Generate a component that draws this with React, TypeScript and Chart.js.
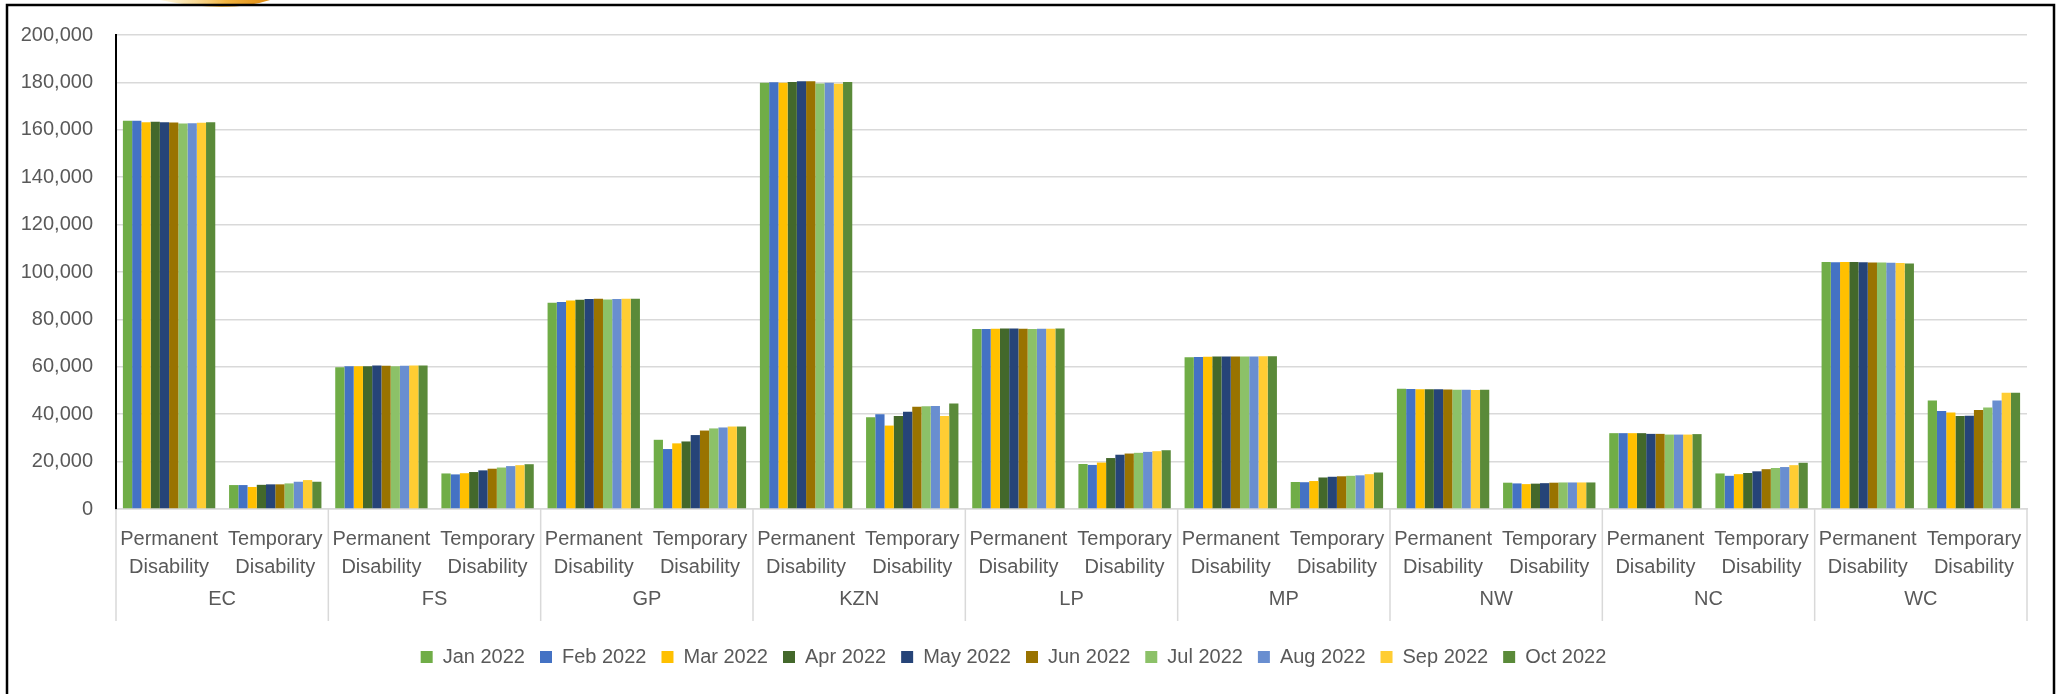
import React, { useEffect, useRef } from 'react';
import { Chart, registerables } from 'chart.js';

Chart.register(...registerables);

// ---- Data ----
const regions = ['EC', 'FS', 'GP', 'KZN', 'LP', 'MP', 'NW', 'NC', 'WC'];
const disabilityTypes = [
  ['Permanent', 'Disability'],
  ['Temporary', 'Disability'],
];
const monthNames = [
  'Jan 2022', 'Feb 2022', 'Mar 2022', 'Apr 2022', 'May 2022',
  'Jun 2022', 'Jul 2022', 'Aug 2022', 'Sep 2022', 'Oct 2022',
];
// order: EC P, EC T, FS P, FS T, GP P, GP T, KZN P, KZN T, LP P, LP T, MP P, MP T, NW P, NW T, NC P, NC T, WC P, WC T
const jan2022 = [163800, 10100, 59800, 15000, 87000, 29200, 179800, 38700, 75900, 19000, 64000, 11400, 50700, 11100, 32000, 15000, 104200, 45800];
const feb2022 = [163800, 10100, 60200, 14600, 87300, 25300, 180100, 40000, 76000, 18600, 64100, 11300, 50600, 10800, 32000, 14000, 104100, 41300];
const mar2022 = [163200, 9300, 60200, 15100, 88000, 27700, 179800, 35200, 76100, 19600, 64200, 11800, 50500, 10500, 32000, 14700, 104200, 40700];
const apr2022 = [163400, 10200, 60200, 15600, 88300, 28500, 180200, 39200, 76200, 21500, 64300, 13300, 50500, 10700, 32000, 15200, 104200, 39200];
const may2022 = [163200, 10400, 60500, 16300, 88600, 31200, 180500, 41000, 76200, 22900, 64300, 13600, 50500, 10900, 31700, 15900, 104100, 39300];
const jun2022 = [163100, 10400, 60400, 17000, 88700, 33100, 180500, 43100, 76100, 23400, 64300, 13800, 50400, 11100, 31700, 16800, 104000, 41800];
const jul2022 = [162700, 10800, 60200, 17500, 88400, 34000, 179500, 43400, 76000, 23700, 64300, 14000, 50300, 11200, 31400, 17300, 104000, 42800];
const aug2022 = [162800, 11500, 60400, 18100, 88600, 34400, 179900, 43500, 76100, 24100, 64300, 14200, 50300, 11200, 31400, 17700, 103900, 45800];
const sep2022 = [163000, 12200, 60500, 18500, 88700, 34800, 179400, 39200, 76100, 24400, 64400, 14700, 50200, 11200, 31400, 18500, 103800, 49100];
const oct2022 = [163200, 11500, 60600, 18900, 88700, 34800, 180200, 44500, 76200, 24800, 64500, 15400, 50300, 11200, 31600, 19500, 103600, 49100];

const monthColors = [
  '#70AD47', '#4472C4', '#FFC000', '#43682B', '#264478',
  '#997300', '#8CC168', '#698ED0', '#FFCD33', '#5A8A39',
];
const yMin = 0;
const yMax = 200000;
const yStep = 20000;

const FONT = "'Liberation Sans', Arial, sans-serif";
const TEXT = '#595959';

const decorPlugin = {
  id: 'decor',
  afterDraw(chart: any) {
    const { ctx, chartArea } = chart;
    const xs = chart.scales.x;
    ctx.save();
    // group separators
    ctx.strokeStyle = '#D9D9D9';
    ctx.lineWidth = 1.5;
    const n = regions.length;
    for (let g = 0; g <= n; g++) {
      let x: number;
      if (g === 0) x = chartArea.left;
      else if (g === n) x = chartArea.right;
      else x = (xs.getPixelForTick(2 * g - 1) + xs.getPixelForTick(2 * g)) / 2;
      ctx.beginPath();
      ctx.moveTo(x, chartArea.bottom);
      ctx.lineTo(x, 621);
      ctx.stroke();
    }
    // group labels
    ctx.fillStyle = TEXT;
    ctx.font = `20px ${FONT}`;
    ctx.textAlign = 'center';
    ctx.textBaseline = 'middle';
    regions.forEach((r, g) => {
      const x = (xs.getPixelForTick(2 * g) + xs.getPixelForTick(2 * g + 1)) / 2;
      ctx.fillText(r, x, 599);
    });
    // decorative swoosh at top
    const grad = ctx.createLinearGradient(160, 0, 270, 0);
    grad.addColorStop(0, 'rgba(253,236,180,0.5)');
    grad.addColorStop(0.6, '#F2B440');
    grad.addColorStop(1, '#E08A10');
    ctx.fillStyle = grad;
    ctx.beginPath();
    ctx.moveTo(160, 0);
    ctx.quadraticCurveTo(228, 14, 270, 0);
    ctx.closePath();
    ctx.fill();
    // outer frame
    ctx.strokeStyle = '#000';
    ctx.lineWidth = 2.5;
    ctx.strokeRect(7, 5, 2047, 720);
    ctx.restore();
  },
};

export default function App() {
  const ref = useRef<HTMLCanvasElement>(null);
  useEffect(() => {
    const labels = regions.flatMap(() => disabilityTypes);
    const series = [jan2022, feb2022, mar2022, apr2022, may2022, jun2022, jul2022, aug2022, sep2022, oct2022];
    const chart = new Chart(ref.current as HTMLCanvasElement, {
      type: 'bar',
      data: {
        labels,
        datasets: series.map((d, i) => ({
          label: monthNames[i],
          data: d,
          backgroundColor: monthColors[i],
          borderWidth: 0,
          categoryPercentage: 0.87,
          barPercentage: 1,
        })),
      },
      options: {
        responsive: false,
        animation: false,
        layout: { padding: { top: 34, left: 0, right: 33, bottom: 17 } },
        scales: {
          x: {
            grid: { display: false, drawTicks: false },
            border: { color: '#D9D9D9', width: 1.5 },
            ticks: {
              color: TEXT,
              font: { family: FONT, size: 20, lineHeight: 1.4 },
              padding: 16,
              maxRotation: 0,
              autoSkip: false,
            },
            afterFit: (s: any) => { s.height = 123; },
          },
          y: {
            min: yMin,
            max: yMax,
            ticks: {
              stepSize: yStep,
              color: TEXT,
              font: { family: FONT, size: 20 },
              padding: 23,
              callback: (v: any) => Number(v).toLocaleString('en-US'),
            },
            grid: { color: '#D9D9D9', lineWidth: 1.5, drawTicks: false },
            border: { color: '#000', width: 2 },
            afterFit: (s: any) => { s.width = 116; },
          },
        },
        plugins: {
          legend: {
            position: 'bottom',
            labels: {
              boxWidth: 12,
              boxHeight: 12,
              padding: 15,
              color: TEXT,
              font: { family: FONT, size: 20 },
            },
          },
          tooltip: { enabled: false },
        },
      } as any,
      plugins: [decorPlugin],
    });
    return () => chart.destroy();
  }, []);
  return (
    <div style={{ position: 'absolute', left: 0, top: 0, width: 2060, height: 694, background: '#fff' }}>
      <canvas ref={ref} width={2060} height={694} style={{ display: 'block' }} />
    </div>
  );
}
